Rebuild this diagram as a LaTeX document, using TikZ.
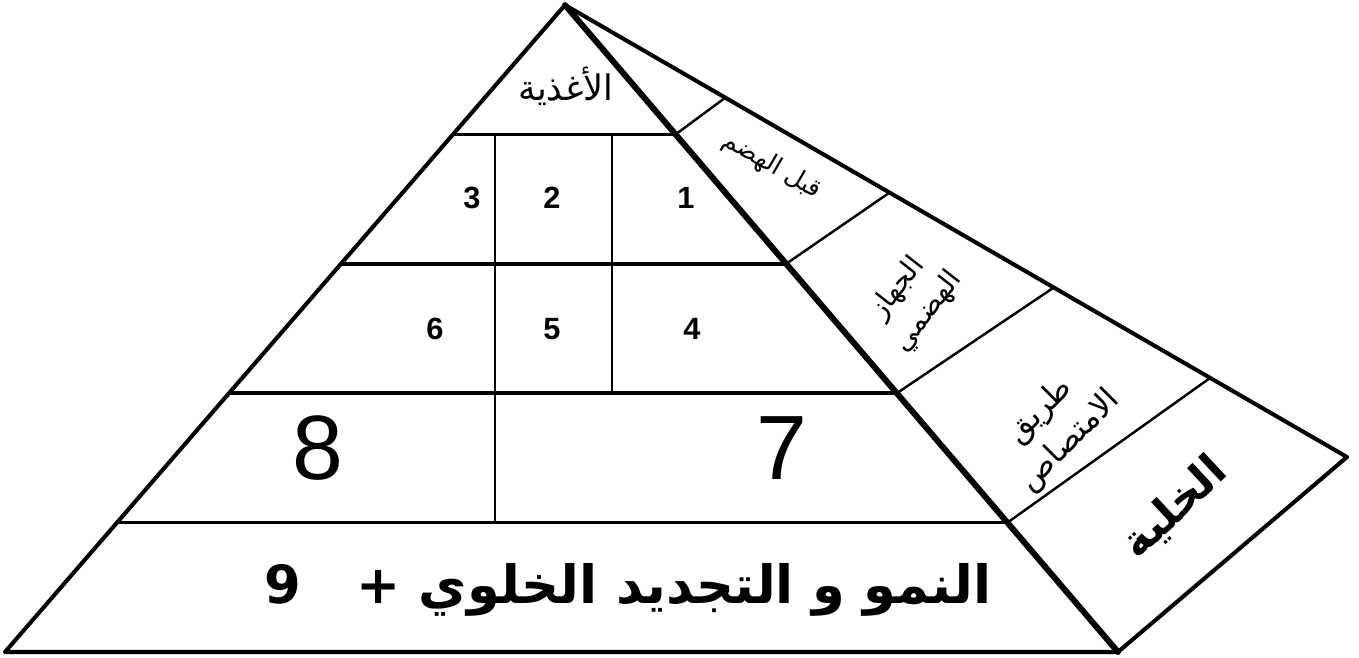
\documentclass[tikz,border=0pt]{standalone}
\usepackage{fontspec}
\setmainfont{Liberation Sans}
\newfontfamily\arabicfont[Script=Arabic]{DejaVu Sans}
\TeXXeTstate=1
\usetikzlibrary{positioning,calc}

\begin{document}
\begin{tikzpicture}[x=0.02cm,y=-0.02cm]
		% styles
		\tikzset{
			edge/.style={line width=2.3pt, line join=round},
			frontedge/.style={line width=3.4pt, line cap=round},
			shelf/.style={line width=2pt},
			wall/.style={line width=0.8pt},
			band/.style={line width=1.4pt},
			num/.style={font=\fontsize{17.5}{20}\selectfont\bfseries, inner sep=0pt},
			bignum/.style={font=\fontsize{52}{60}\selectfont, inner sep=0pt},
			lbl/.style={font=\arabicfont\fontsize{14}{18}\selectfont, align=center, inner sep=0pt},
			lbltwo/.style={font=\arabicfont\fontsize{16}{22}\selectfont, align=center, inner sep=0pt},
			lblthree/.style={font=\arabicfont\fontsize{18}{24}\selectfont, align=center, inner sep=0pt},
			toplbl/.style={font=\arabicfont\fontsize{20}{22}\selectfont, inner sep=0pt},
			celllbl/.style={font=\arabicfont\bfseries\fontsize{25}{30}\selectfont, inner sep=0pt},
			baselbl/.style={font=\arabicfont\bfseries\fontsize{30}{36}\selectfont, inner sep=0pt}
		}
		\useasboundingbox (0,0) rectangle (1359,657);

		% corners
		\coordinate (apex) at (565,5);
		\coordinate (bl) at (5,652);
		\coordinate (br) at (1118,652);
		\coordinate (back) at (1347,457);
		\coordinate (w1) at (495,0);
		\coordinate (w2) at (612,0);

		% points on the edges
		\foreach \t/\n in {0.2/1,0.4/2,0.6/3,0.8/4}{
			\coordinate (l\n) at ($(apex)!\t!(bl)$);
			\coordinate (r\n) at ($(apex)!\t!(br)$);
		}
		\foreach \t/\n in {0.205/1,0.415/2,0.625/3,0.825/4}
			\coordinate (b\n) at ($(apex)!\t!(back)$);

		% outline
		\draw[edge] (br) -- (bl) -- (apex) -- (back) -- cycle;
		\draw[frontedge] (apex) -- (br);

		% shelves and bands
		\foreach \n in {1,...,4} \draw[shelf] (l\n) -- (r\n);
		\foreach \n in {1,...,4} \draw[band] (r\n) -- (b\n);

		% walls
		\draw[wall] (w1 |- l1) -- (w1 |- l4);
		\draw[wall] (w2 |- l1) -- (w2 |- l3);

		% labels
		\node[toplbl] (food) at (566,86) {\beginR الأغذية\endR};
		\node[num] (n1) at (686,198) {1};
		\node[num] (n2) at (552,198) {2};
		\node[num] (n3) at (472,198) {3};
		\node[num] (n4) at (692,329) {4};
		\node[num] (n5) at (552,329) {5};
		\node[num] (n6) at (435,329) {6};
		\node[bignum] (n8) at (318,448) {8};
		\node[bignum] (n7) at (782,448) {7};
		\node[baselbl] (growth) at (628,590) {\beginR النمو و التجديد الخلوي +\ \ \ 9\endR};

		% side face
		\node[lbl, rotate=-30] (predig) at (772,166) {\beginR قبل الهضم\endR};
		\node[lbltwo, rotate=52] (digsys) at (913,300) {\beginR الجهاز\endR\\\beginR الهضمي\endR};
		\node[lblthree, rotate=45] (absorb) at (1055,426) {\beginR طريق\endR\\\beginR الامتصاص\endR};
		\node[celllbl, rotate=43] (cell) at (1175,508) {\beginR الخلية\endR};
\end{tikzpicture}
\end{document}
